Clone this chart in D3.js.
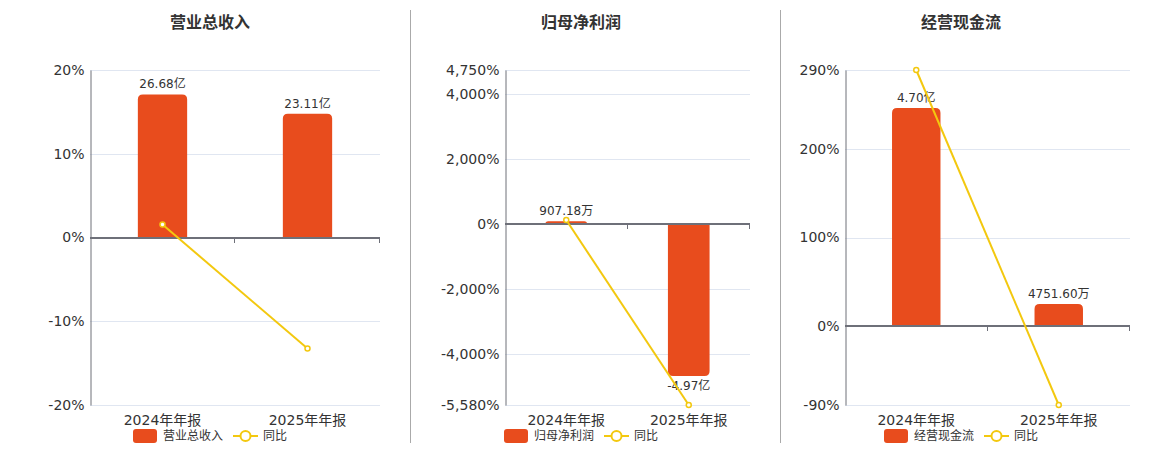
<!DOCTYPE html>
<html>
<head>
<meta charset="utf-8">
<script src="https://cdn.jsdelivr.net/npm/d3@7"></script>
<style>
  body { margin: 0; background: #fff; }
  svg { display: block; font-family: "DejaVu Sans", "Noto Sans CJK SC", sans-serif; }
</style>
</head>
<body>
<div id="vis"></div>
<script>
// Data
const CATEGORIES = ["2024年年报", "2025年年报"];
const TITLES = ["营业总收入", "归母净利润", "经营现金流"];

// bar values, in 亿
const REVENUE = [26.68, 23.11];
const NET_PROFIT = [0.090718, -4.97];
const CASH_FLOW = [4.70, 0.475160];

// year-on-year, in %
const REVENUE_YOY = [1.55, -13.25];
const NET_PROFIT_YOY = [123, -5580];
const CASH_FLOW_YOY = [290, -90];

// y axis ticks (%)
const REVENUE_TICKS = [-20, -10, 0, 10, 20];
const NET_PROFIT_TICKS = [-5580, -4000, -2000, 0, 2000, 4000, 4750];
const CASH_FLOW_TICKS = [-90, 0, 100, 200, 290];

// hidden bar axis extents (亿), zero aligned with the % axis
const REVENUE_BAR_AXIS = [-31.25, 31.25];
const NET_PROFIT_BAR_AXIS = [-5.92, 5.04];
const CASH_FLOW_BAR_AXIS = [-1.70, 5.52];

const FRAME_WIDTH = 1160;
const FRAME_HEIGHT = 450;
const BAR_COLOR = "#e84c1d";
const LINE_COLOR = "#f3c80f";

const PANELS = [
  { left: 90, right: 380, center: 210, bars: REVENUE, yoy: REVENUE_YOY, ticks: REVENUE_TICKS, barAxis: REVENUE_BAR_AXIS },
  { left: 505, right: 750, center: 581, bars: NET_PROFIT, yoy: NET_PROFIT_YOY, ticks: NET_PROFIT_TICKS, barAxis: NET_PROFIT_BAR_AXIS },
  { left: 845, right: 1130, center: 961, bars: CASH_FLOW, yoy: CASH_FLOW_YOY, ticks: CASH_FLOW_TICKS, barAxis: CASH_FLOW_BAR_AXIS }
];
const TOP = 70, BOTTOM = 405;

// plain hyphen for negatives, like the original
const LOCALE = d3.formatLocale({ decimal: ".", thousands: ",", grouping: [3], currency: ["", ""], minus: "-" });
const PCT = LOCALE.format(",");

const svg = d3.select("#vis")
  .append("svg")
    .attr("width", FRAME_WIDTH)
    .attr("height", FRAME_HEIGHT);

// vertical dividers between panels
[410, 780].forEach((x) => {
  svg.append("line")
    .attr("x1", x + 0.5).attr("x2", x + 0.5)
    .attr("y1", 10).attr("y2", 443)
    .attr("stroke", "#aaa");
});

function fmtValue(v) {
  if (Math.abs(v) < 1) return (v * 10000).toFixed(2) + "万";
  return v.toFixed(2) + "亿";
}

// rect path rounded only on the value end
function barPath(x, w, y0, y1, r) {
  const neg = y1 > y0;
  const h = Math.abs(y1 - y0);
  r = Math.min(r, h, w / 2);
  if (!neg) {
    return `M${x},${y0}V${y1 + r}Q${x},${y1} ${x + r},${y1}H${x + w - r}Q${x + w},${y1} ${x + w},${y1 + r}V${y0}Z`;
  }
  return `M${x},${y0}V${y1 - r}Q${x},${y1} ${x + r},${y1}H${x + w - r}Q${x + w},${y1} ${x + w},${y1 - r}V${y0}Z`;
}

PANELS.forEach((p, i) => {
  const g = svg.append("g");

  const X_SCALE = d3.scaleBand()
    .domain(CATEGORIES)
    .range([p.left, p.right]);

  const Y_SCALE = d3.scaleLinear()
    .domain(d3.extent(p.ticks))
    .range([BOTTOM, TOP]);

  const BAR_SCALE = d3.scaleLinear()
    .domain(p.barAxis)
    .range([BOTTOM, TOP]);

  // title
  g.append("text")
    .attr("x", p.center).attr("y", 28)
    .attr("text-anchor", "middle")
    .attr("font-size", 16).attr("font-weight", "bold")
    .attr("fill", "#333")
    .text(TITLES[i]);

  // grid lines
  g.selectAll(".grid")
    .data(p.ticks)
    .enter()
    .append("line")
      .attr("x1", p.left).attr("x2", p.right)
      .attr("y1", (d) => Math.round(Y_SCALE(d)) + 0.5)
      .attr("y2", (d) => Math.round(Y_SCALE(d)) + 0.5)
      .attr("stroke", "#e0e6f1");

  // y axis
  const yAxis = g.append("g")
    .attr("transform", "translate(" + (p.left + 0.5) + ",0)")
    .call(d3.axisLeft(Y_SCALE)
      .tickValues(p.ticks)
      .tickSize(0)
      .tickPadding(6)
      .tickFormat((d) => PCT(d) + "%"));
  yAxis.select(".domain").attr("stroke", "#6e7079");
  yAxis.selectAll("text")
    .attr("font-size", 14)
    .attr("fill", "#333")
    .attr("font-family", "DejaVu Sans, sans-serif");

  // bars
  const bw = X_SCALE.bandwidth() * 0.34;
  const zero = BAR_SCALE(0);
  g.selectAll(".bar")
    .data(p.bars)
    .enter()
    .append("path")
      .attr("d", (d, j) => barPath(X_SCALE(CATEGORIES[j]) + X_SCALE.bandwidth() / 2 - bw / 2, bw, zero, BAR_SCALE(d), 5))
      .attr("fill", BAR_COLOR);

  // bar labels
  g.selectAll(".lab")
    .data(p.bars)
    .enter()
    .append("text")
      .attr("x", (d, j) => X_SCALE(CATEGORIES[j]) + X_SCALE.bandwidth() / 2)
      .attr("y", (d) => d >= 0 ? BAR_SCALE(d) - 6 : BAR_SCALE(d) + 14)
      .attr("text-anchor", "middle")
      .attr("font-size", 12)
      .attr("fill", "#333")
      .text((d) => fmtValue(d));

  // zero axis with category ticks
  const y0 = Math.round(Y_SCALE(0));
  g.append("line")
    .attr("x1", p.left).attr("x2", p.right)
    .attr("y1", y0).attr("y2", y0)
    .attr("stroke", "#6e7079").attr("stroke-width", 2);
  [1, 2].forEach((k) => {
    const tx = Math.round(p.left + X_SCALE.step() * k) - 0.5;
    g.append("line")
      .attr("x1", tx).attr("x2", tx)
      .attr("y1", y0).attr("y2", y0 + 5)
      .attr("stroke", "#6e7079");
  });

  // category labels
  g.selectAll(".cat")
    .data(CATEGORIES)
    .enter()
    .append("text")
      .attr("x", (d) => X_SCALE(d) + X_SCALE.bandwidth() / 2)
      .attr("y", 425)
      .attr("text-anchor", "middle")
      .attr("font-size", 14)
      .attr("fill", "#333")
      .text((d) => d);

  // yoy line
  const line = d3.line()
    .x((d, j) => X_SCALE(CATEGORIES[j]) + X_SCALE.bandwidth() / 2)
    .y((d) => Y_SCALE(d));
  g.append("path")
    .datum(p.yoy)
    .attr("d", line)
    .attr("fill", "none")
    .attr("stroke", LINE_COLOR)
    .attr("stroke-width", 2);
  g.selectAll(".pt")
    .data(p.yoy)
    .enter()
    .append("circle")
      .attr("cx", (d, j) => X_SCALE(CATEGORIES[j]) + X_SCALE.bandwidth() / 2)
      .attr("cy", (d) => Y_SCALE(d))
      .attr("r", 2.5)
      .attr("fill", "#fff")
      .attr("stroke", LINE_COLOR)
      .attr("stroke-width", 1.5);

  // legend
  const lx = p.center - 77, ly = 436;
  g.append("rect")
    .attr("x", lx).attr("y", ly - 7)
    .attr("width", 24).attr("height", 14)
    .attr("rx", 3)
    .attr("fill", BAR_COLOR);
  g.append("text")
    .attr("x", lx + 30).attr("y", ly + 4)
    .attr("font-size", 12).attr("fill", "#333")
    .text(TITLES[i]);
  g.append("line")
    .attr("x1", lx + 100).attr("x2", lx + 125)
    .attr("y1", ly).attr("y2", ly)
    .attr("stroke", LINE_COLOR).attr("stroke-width", 2);
  g.append("circle")
    .attr("cx", lx + 112.5).attr("cy", ly)
    .attr("r", 5)
    .attr("fill", "#fff")
    .attr("stroke", LINE_COLOR).attr("stroke-width", 2);
  g.append("text")
    .attr("x", lx + 130).attr("y", ly + 4)
    .attr("font-size", 12).attr("fill", "#333")
    .text("同比");
});
</script>
</body>
</html>
